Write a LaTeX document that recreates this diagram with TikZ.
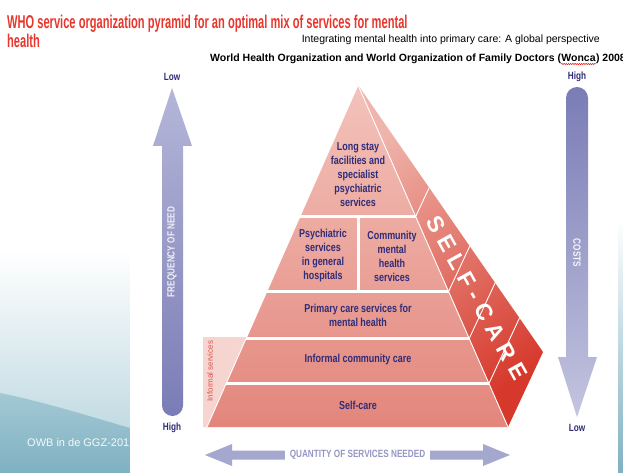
\documentclass[tikz,border=0pt]{standalone}
\usepackage{fontspec}
\setmainfont{Liberation Sans}
\newfontfamily\condfont[FakeStretch=0.78]{Liberation Sans}
\newfontfamily\titlefont[FakeStretch=0.6]{Liberation Sans}
\usetikzlibrary{calc,decorations.pathmorphing}

\definecolor{whored}{HTML}{E8362C}
\definecolor{navy}{HTML}{2F2C78}
\definecolor{arrowblue}{HTML}{A4A7CE}
\definecolor{arrowdark}{HTML}{7A7CB6}
\definecolor{arrowlight}{HTML}{B4B6D8}
\definecolor{qtytext}{HTML}{9597C4}
\definecolor{pinktop}{HTML}{F3C3BB}
\definecolor{pinkbot}{HTML}{E3867C}
\definecolor{sidelight}{HTML}{EFB5AC}
\definecolor{sidedark}{HTML}{D6392C}
\definecolor{informal}{HTML}{F6D5D0}
\definecolor{bandred}{HTML}{D9574D}
\definecolor{slidemid}{HTML}{B3D2DC}
\definecolor{slideteal}{HTML}{7FB1C2}

\tikzset{
  titletext/.style={text=whored, inner sep=0pt, font=\titlefont\bfseries\fontsize{18.5}{20}\selectfont},
  orgtext/.style={inner sep=0pt, font=\bfseries\fontsize{10.5}{12}\selectfont},
  pyrtext/.style={text=navy, align=center, inner sep=0pt,
    font=\condfont\bfseries\fontsize{11.5}{14}\selectfont},
  endlabel/.style={text=navy, font=\condfont\bfseries\fontsize{10.5}{12}\selectfont},
  arrowtext/.style={font=\condfont\bfseries\fontsize{10.5}{12}\selectfont},
  layersep/.style={white, line width=3pt},
  stripe/.style={white, line width=0.9pt},
  selfcare/.style={white, rotate=-61, inner sep=0pt,
    font=\bfseries\fontsize{23}{23}\selectfont\addfontfeature{LetterSpace=28}}
}

\begin{document}
\begin{tikzpicture}[x=1pt,y=-1pt]
\useasboundingbox (0,0) rectangle (623,473);

% Folienhintergrund
\shade[top color=white, bottom color=slidemid] (0,250) rectangle (130,473);
\shade[top color=slidemid!70!slideteal, bottom color=slideteal] (0,393) .. controls (45,402) and (95,418) .. (130,428) -- (130,473) -- (0,473) -- cycle;
\node[text=white!92!slideteal, anchor=base west, inner sep=0pt, font=\fontsize{11}{13}\selectfont] (footer) at (27,446) {OWB in de GGZ-2017};
\shade[top color=white, bottom color=slideteal] (618,220) rectangle (623,473);
\fill[white] (130,64) rectangle (618,473);

% Titel
\node[titletext, anchor=base west] (title) at (7,29) {WHO service organization pyramid for an optimal mix of services for mental};
\node[titletext, anchor=base west] (title2) at ($(title.base west)+(0,19)$) {health};
\node[anchor=base east, inner sep=0pt, font=\fontsize{10.5}{12}\selectfont] (book) at (600,43) {Integrating mental health into primary care: A global perspective};
\node[orgtext, anchor=base west] (org) at (210,62) {World Health Organization and World Organization of Family Doctors (};
\node[orgtext, anchor=base west] (wonca) at (org.base east) {Wonca};
\node[orgtext, anchor=base west] (year) at (wonca.base east) {) 2008};
\draw[red, line width=0.5pt, decorate, decoration={snake, amplitude=0.6pt, segment length=2.2pt}]
  ($(wonca.base west)+(0,2)$) -- ($(wonca.base east)+(0,2)$);

% Pfeile
\shade[top color=arrowlight, bottom color=arrowdark] (172,88) -- (192,146) -- (183,146)
  [rounded corners=10.5pt] -- (183,416) -- (162,416) [sharp corners] -- (162,146) -- (153,146) -- cycle;
\shade[top color=arrowdark, bottom color=arrowlight!80!white] (577,417) -- (597,357) -- (588,357)
  [rounded corners=11pt] -- (588,87) -- (566,87) [sharp corners] -- (566,357) -- (558,357) -- cycle;
\fill[arrowblue] (205,455) -- (232,444) -- (232,450.5) -- (483,450.5) -- (483,444) -- (510,455)
  -- (483,466) -- (483,459.5) -- (232,459.5) -- (232,466) -- cycle;

\node[endlabel] (lowfreq) at (172,77) {Low};
\node[endlabel] (highfreq) at (172,428) {High};
\node[endlabel] (highcost) at (577,77) {High};
\node[endlabel] (lowcost) at (577,428) {Low};
\node[arrowtext, text=white!88!arrowdark, rotate=90] (freq) at (172,252) {FREQUENCY OF NEED};
\node[arrowtext, text=white!92!arrowdark, rotate=-90] (costs) at (577,253) {COSTS};
\node[arrowtext, text=qtytext, fill=white, inner xsep=5pt, inner ysep=1.5pt] (qty) at (357.5,455) {QUANTITY OF SERVICES NEEDED};

% Pyramide
\coordinate (apex) at (358,85);
\coordinate (bl) at (207,427);
\coordinate (br) at (508,427);
\coordinate (back) at (543,352);

% informelle Dienste
\fill[informal] (203,337) -- ($(apex)!0.737!(bl)$) -- (bl) -- (203,427) -- cycle;
\node[rotate=90, text=bandred, inner sep=0pt, font=\fontsize{8}{9}\selectfont] (infserv) at (210,371) {Informal services};

% Seite
\shade[top color=sidelight, bottom color=sidedark, shading angle=35] (apex) -- (back) -- (br) -- cycle;
% Vorderseite
\shade[top color=pinktop, bottom color=pinkbot] (apex) -- (br) -- (bl) -- cycle;

% Trennlinien
\draw[layersep] ($(apex)!0.3845!(bl)$) -- ($(apex)!0.3845!(br)$);
\draw[layersep] ($(apex)!0.6038!(bl)$) -- ($(apex)!0.6038!(br)$);
\draw[layersep] ($(apex)!0.7412!(bl)$) -- ($(apex)!0.7412!(br)$);
\draw[layersep] ($(apex)!0.8728!(bl)$) -- ($(apex)!0.8728!(br)$);
\draw[layersep] (358,216.5) -- (358,291.5);

\draw[stripe] (apex) -- (br);
\draw[stripe] (apex) -- (bl);
\draw[stripe] ($(apex)!0.3845!(br)$) -- ($(apex)!0.3845!(back)$);
\draw[stripe] ($(apex)!0.6038!(br)$) -- ($(apex)!0.6038!(back)$);
\draw[stripe] ($(apex)!0.7412!(br)$) -- ($(apex)!0.7412!(back)$);
\draw[stripe] ($(apex)!0.8728!(br)$) -- ($(apex)!0.8728!(back)$);

\node[pyrtext] (longstay) at (358,175) {Long stay\\facilities and\\specialist\\psychiatric\\services};
\node[pyrtext] (hospitals) at (323,256) {Psychiatric\\services\\in general\\hospitals};
\node[pyrtext] (community) at (392,256) {Community\\mental\\health\\services};
\node[pyrtext] (primary) at (358,315) {Primary care services for\\mental health};
\node[pyrtext] (informalcare) at (358,360) {Informal community care};
\node[pyrtext] (selfcare) at (358,405) {Self-care};

% SELF-CARE auf der Seite
\node[selfcare] (sidelabel) at (477,298) {SELF-CARE};

\end{tikzpicture}
\end{document}
